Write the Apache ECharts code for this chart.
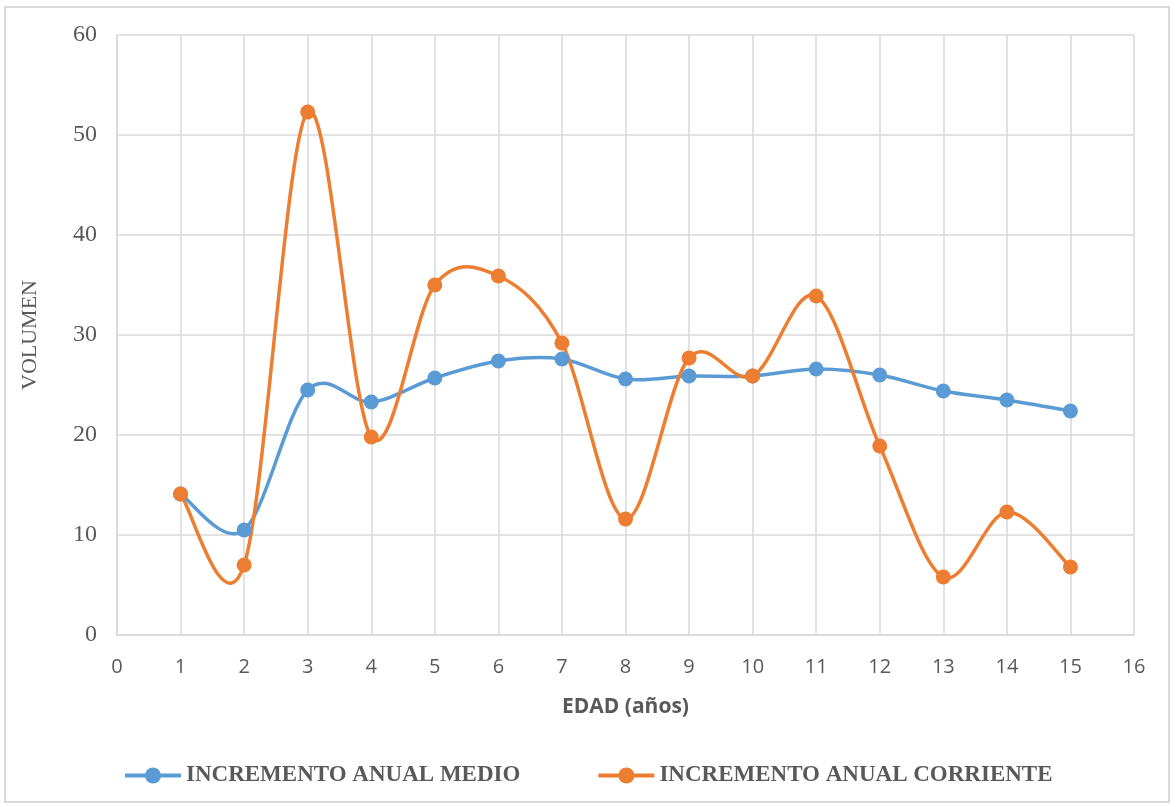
<!DOCTYPE html>
<html>
<head>
<meta charset="utf-8">
<script src="https://cdn.jsdelivr.net/npm/echarts@6/dist/echarts.min.js"></script>
<style>
  html, body { margin: 0; padding: 0; background: #fff; }
  #frame { position: absolute; left: 4px; top: 6px; width: 1166px; height: 797px; border: 2px solid #d9d9d9; box-sizing: border-box; }
  #chart { position: absolute; left: 0; top: 0; width: 1176px; height: 807px; }
</style>
</head>
<body>
<div id="frame"></div>
<div id="chart"></div>
<script>
// Age in years
const edad = [1, 2, 3, 4, 5, 6, 7, 8, 9, 10, 11, 12, 13, 14, 15];
// Mean annual increment
const incrementoMedio = [14.1, 10.5, 24.5, 23.3, 25.7, 27.4, 27.6, 25.6, 25.9, 25.9, 26.6, 26.0, 24.4, 23.5, 22.4];
// Current annual increment
const incrementoCorriente = [14.1, 7.0, 52.3, 19.8, 35.0, 35.9, 29.2, 11.6, 27.7, 25.9, 33.9, 18.9, 5.8, 12.3, 6.8];

const nombreMedio = 'INCREMENTO ANUAL MEDIO';
const nombreCorriente = 'INCREMENTO ANUAL CORRIENTE';

const azul = '#5B9BD5';
const naranja = '#ED7D31';

const pairs = (ys) => edad.map((x, i) => [x, ys[i]]);

// Smooth curve segment i -> i+1 as a cubic Bezier (Catmull-Rom style control points)
function curveSegment(ys, color) {
  return function (params, api) {
    const i = params.dataIndex;
    const n = edad.length;
    if (i >= n - 1) return null;
    const pt = (k) => api.coord([edad[Math.max(0, Math.min(n - 1, k))], ys[Math.max(0, Math.min(n - 1, k))]]);
    const p0 = pt(i - 1), p1 = pt(i), p2 = pt(i + 1), p3 = pt(i + 2);
    return {
      type: 'bezierCurve',
      shape: {
        x1: p1[0], y1: p1[1], x2: p2[0], y2: p2[1],
        cpx1: p1[0] + (p2[0] - p0[0]) / 6, cpy1: p1[1] + (p2[1] - p0[1]) / 6,
        cpx2: p2[0] - (p3[0] - p1[0]) / 6, cpy2: p2[1] - (p3[1] - p1[1]) / 6
      },
      style: { stroke: color, lineWidth: 3.5, fill: null, lineCap: 'round' }
    };
  };
}

const chart = echarts.init(document.getElementById('chart'), null, { renderer: 'canvas' });
chart.setOption({
  backgroundColor: 'transparent',
  animation: false,
  grid: { left: 117, right: 42, top: 35, bottom: 172, containLabel: false },
  xAxis: {
    type: 'value', min: 0, max: 16, interval: 1,
    name: 'EDAD (años)', nameLocation: 'middle', nameGap: 62,
    nameTextStyle: { fontFamily: 'Open Sans', fontWeight: 'bold', fontSize: 21, color: '#595959' },
    axisLine: { show: true, lineStyle: { color: '#d9d9d9', width: 1.5 } },
    axisTick: { show: false },
    axisLabel: { fontFamily: 'Open Sans', fontSize: 20, color: '#595959', margin: 22 },
    splitLine: { show: true, lineStyle: { color: '#d9d9d9', width: 1.5 } }
  },
  yAxis: {
    type: 'value', min: 0, max: 60, interval: 10,
    name: 'VOLUMEN', nameLocation: 'middle', nameGap: 76, nameRotate: 90,
    nameTextStyle: { fontFamily: 'Liberation Serif', fontSize: 22, color: '#595959' },
    axisLine: { show: true, lineStyle: { color: '#d9d9d9', width: 1.5 } },
    axisTick: { show: false },
    axisLabel: { fontFamily: 'Liberation Serif', fontSize: 24, color: '#595959', margin: 20 },
    splitLine: { show: true, lineStyle: { color: '#d9d9d9', width: 1.5 } }
  },
  legend: {
    top: 759, left: 118, itemGap: 76, itemWidth: 56, itemHeight: 20,
    textStyle: { fontFamily: 'Liberation Serif', fontWeight: 'bold', fontSize: 23, color: '#595959' },
    data: [
      { name: nombreMedio, itemStyle: { color: azul }, lineStyle: { color: azul, width: 4, opacity: 1 } },
      { name: nombreCorriente, itemStyle: { color: naranja }, lineStyle: { color: naranja, width: 4, opacity: 1 } }
    ]
  },
  series: [
    {
      name: nombreMedio, type: 'line', data: pairs(incrementoMedio), z: 3,
      symbol: 'circle', symbolSize: 15,
      lineStyle: { color: azul, width: 3.5, opacity: 0 },
      itemStyle: { color: azul }
    },
    {
      name: nombreCorriente, type: 'line', data: pairs(incrementoCorriente), z: 3,
      symbol: 'circle', symbolSize: 15,
      lineStyle: { color: naranja, width: 3.5, opacity: 0 },
      itemStyle: { color: naranja }
    },
    {
      name: nombreMedio, type: 'custom', data: pairs(incrementoMedio), z: 2,
      renderItem: curveSegment(incrementoMedio, azul), silent: true
    },
    {
      name: nombreCorriente, type: 'custom', data: pairs(incrementoCorriente), z: 2,
      renderItem: curveSegment(incrementoCorriente, naranja), silent: true
    }
  ]
});
</script>
</body>
</html>
